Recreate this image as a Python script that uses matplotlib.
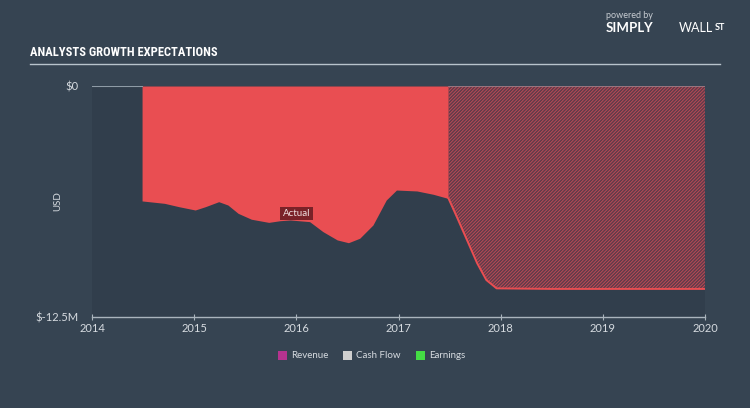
import matplotlib
matplotlib.use('Agg')
import matplotlib.pyplot as plt
from matplotlib import font_manager
from matplotlib.patches import Rectangle

# earnings history (USD millions)
actual_years = [2014.49, 2014.71, 2014.85, 2015.01, 2015.11, 2015.24, 2015.33, 2015.43,
                2015.56, 2015.73, 2015.84, 2015.94, 2016.13, 2016.26, 2016.40, 2016.51,
                2016.62, 2016.75, 2016.88, 2016.98, 2017.18, 2017.34, 2017.49]
actual_vals = [-6.22, -6.35, -6.53, -6.71, -6.53, -6.26, -6.44, -6.89,
               -7.21, -7.38, -7.29, -7.25, -7.34, -7.88, -8.33, -8.48,
               -8.24, -7.52, -6.17, -5.63, -5.68, -5.86, -6.09]

# analyst forecast
fc_years = [2017.49, 2017.57, 2017.67, 2017.77, 2017.86, 2017.96, 2018.5, 2019.0, 2019.5, 2020.0]
fc_vals = [-6.09, -7.07, -8.33, -9.59, -10.50, -10.95, -10.98, -10.98, -10.98, -10.98]

x_ticks = [2014, 2015, 2016, 2017, 2018, 2019, 2020]
y_ticks = [0, -12.5]
y_tick_labels = ['$0', '$-12.5M']
legend_names = ['Revenue', 'Cash Flow', 'Earnings']
legend_colors = ['#b5338f', '#cfcfcf', '#44dd44']

BG = '#364452'
PANEL = '#313e4c'
RED = '#e94e52'
TXT = '#d6dbe0'

plt.rcParams['hatch.linewidth'] = 0.6
plt.rcParams['font.family'] = ['Lato', 'DejaVu Sans']

# narrow font for the title if one is around
installed = {f.name for f in font_manager.fontManager.ttflist}
title_font, title_size = 'DejaVu Sans', 7.2
for cand in ['DejaVu Sans Condensed', 'Liberation Sans Narrow', 'Roboto Condensed', 'Open Sans Condensed']:
    if cand in installed:
        title_font, title_size = cand, 9
        break

fig = plt.figure(figsize=(7.5, 4.08), dpi=100, facecolor=BG)
ax = fig.add_axes([92 / 750, 91 / 408, 613 / 750, 231 / 408])
ax.set_facecolor(PANEL)

ax.fill_between(actual_years, actual_vals, 0, color=RED, linewidth=0, zorder=2)
ax.fill_between(fc_years, fc_vals, 0, facecolor='#5f3c4a', edgecolor='#c64b56',
                hatch='/' * 10, linewidth=0, zorder=2)
ax.plot(fc_years, fc_vals, color=RED, linewidth=1.4, zorder=3)
ax.plot([2014, actual_years[0]], [0, 0], color='#8e9ba6', linewidth=1.5, zorder=3)
ax.plot([fc_years[0], 2020], [0, 0], color='#9c7f89', linewidth=1.2, zorder=3)

ax.text(2016.0, -6.9, 'Actual', ha='center', va='center', fontsize=7, color='#f0e0e0',
        bbox=dict(boxstyle='square,pad=0.25', facecolor='#7a2228', edgecolor='none'), zorder=4)

ax.set_xlim(2014, 2020)
ax.set_ylim(-12.5, 0)
ax.set_xticks(x_ticks)
ax.set_xticklabels([str(t) for t in x_ticks])
ax.set_yticks(y_ticks)
ax.set_yticklabels(y_tick_labels)
for s in ['top', 'right', 'left']:
    ax.spines[s].set_visible(False)
ax.spines['bottom'].set_color('#aab4bd')
ax.spines['bottom'].set_linewidth(1)
ax.tick_params(axis='x', colors='#aab4bd', labelcolor=TXT, labelsize=8, length=4, direction='inout', pad=2)
ax.tick_params(axis='y', length=0, labelcolor=TXT, labelsize=8, pad=10)
ax.set_ylabel('USD', color=TXT, fontsize=7)
ax.yaxis.set_label_coords(-0.049, 0.5)

# title and rule
fig.text(30 / 750, 1 - 53 / 408, 'ANALYSTS GROWTH EXPECTATIONS', color='white', fontsize=title_size,
         fontweight='bold', family=[title_font, 'DejaVu Sans'], va='center')
fig.add_artist(plt.Line2D([30 / 750, 720 / 750], [1 - 64 / 408, 1 - 64 / 408],
                          color='#b8c3cc', linewidth=1))

# brand
fig.text(606 / 750, 1 - 15 / 408, 'powered by', color='#c8cdd2', fontsize=6.5, va='center')
fig.text(606 / 750, 1 - 28 / 408, 'SIMPLY', color='white', fontsize=9.5, fontweight='bold', va='center')
fig.text(679 / 750, 1 - 28 / 408, 'WALL', color='white', fontsize=9, va='center')
fig.text(715 / 750, 1 - 27 / 408, 'ST', color='white', fontsize=6.5, fontweight='bold', va='center')

# legend
lx = [278, 343, 416]
for x0, name, col in zip(lx, legend_names, legend_colors):
    fig.add_artist(Rectangle((x0 / 750, 1 - 360 / 408), 9 / 750, 9 / 408,
                             transform=fig.transFigure, facecolor=col, edgecolor='none'))
    fig.text((x0 + 13) / 750, 1 - 356 / 408, name, color=TXT, fontsize=7, va='center')

fig.savefig('out.png', dpi=100, facecolor=BG)
